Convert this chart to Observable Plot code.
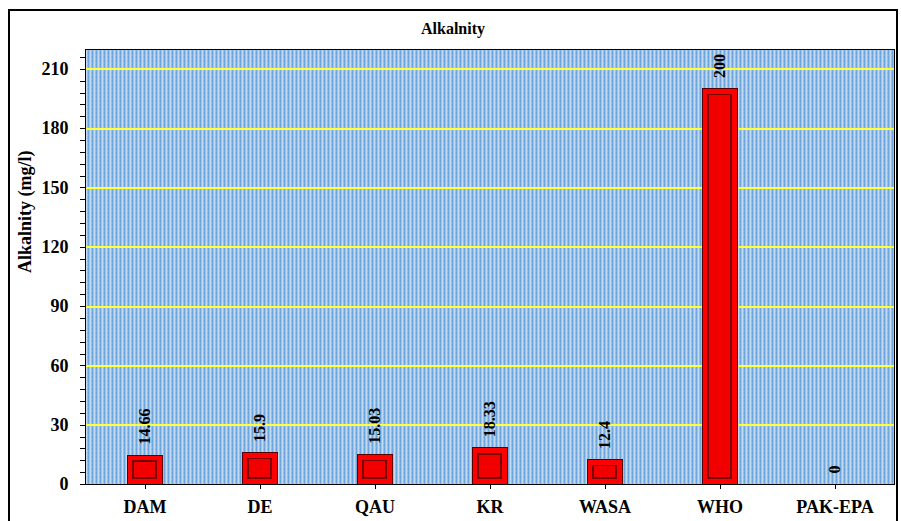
<!DOCTYPE html>
<html>
<head>
<meta charset="utf-8">
<script src="https://cdn.jsdelivr.net/npm/d3@7"></script>
<script src="https://cdn.jsdelivr.net/npm/@observablehq/plot@0.6"></script>
<style>
  html, body { margin: 0; padding: 0; background: #fff; width: 901px; height: 521px; overflow: hidden; }
  #frame { position: absolute; left: 8px; top: 9px; width: 886px; height: 530px; border: 2px solid #000; }
  #title { position: absolute; left: 8px; width: 890px; top: 20px; text-align: center;
           font-family: "Liberation Serif", "Times New Roman", Times, "DejaVu Serif", serif;
           font-weight: bold; font-size: 16px; color: #000; }
  #chart { position: absolute; left: 0; top: 0; }
</style>
</head>
<body>
<div id="frame"></div>
<div id="title">Alkalnity</div>
<div id="chart"></div>
<script>
const categories = ["DAM", "DE", "QAU", "KR", "WASA", "WHO", "PAK-EPA"];
const values = [14.66, 15.9, 15.03, 18.33, 12.4, 200, 0];
const valueLabels = ["14.66", "15.9", "15.03", "18.33", "12.4", "200", "0"];
const yTicks = [0, 30, 60, 90, 120, 150, 180, 210];
const yMinorTicks = d3.range(0, 221, 6);
const yTitle = "Alkalnity (mg/l)";

const data = categories.map((c, i) => ({ cat: c, value: values[i], label: valueLabels[i] }));
const font = '"Liberation Serif", "Times New Roman", Times, "DejaVu Serif", serif';

const chart = Plot.plot({
  width: 901,
  height: 521,
  marginLeft: 85,
  marginRight: 7,
  marginTop: 49,
  marginBottom: 37,
  style: { fontFamily: font, fontWeight: "bold", fontSize: "18px", color: "#000", background: "transparent" },
  x: { domain: categories, padding: 0 },
  y: { domain: [0, 220] },
  marks: [
    Plot.frame({ fill: "url(#bgdots)", stroke: null }),
    Plot.ruleY(yTicks.filter(d => d > 0), { stroke: "#ffff3a", strokeWidth: 2 }),
    Plot.axisY({ ticks: yMinorTicks, tickSize: 5, tickFormat: () => "", label: null, stroke: "#000" }),
    Plot.axisY({ ticks: yTicks, tickSize: 5, tickPadding: 12, label: null, fontSize: 18, fontWeight: "bold", fontFamily: font }),
    Plot.axisX({ tickSize: 5, tickPadding: 11, label: null, fontSize: 18, fontWeight: "bold", fontFamily: font }),
    Plot.barY(data.filter(d => d.value > 0), { x: "cat", y: "value", fill: "#ff0000", stroke: "#5a0000", strokeWidth: 1, insetLeft: 40, insetRight: 40 }),
    Plot.barY(data.filter(d => d.value > 0), { x: "cat", y: "value", fill: "#f20000", stroke: "#7a0000", strokeWidth: 1.5, insetLeft: 46, insetRight: 46, insetTop: 6, insetBottom: 6 }),
    Plot.text(data, { x: "cat", y: "value", text: "label", rotate: -90, textAnchor: "start", lineAnchor: "middle", dy: -11, fontSize: 16, fontWeight: "bold", fill: "#000", fontFamily: font }),
    Plot.text([yTitle], { frameAnchor: "left", rotate: -90, dx: -60, dy: 6, fontSize: 18, fontWeight: "bold", fill: "#000", fontFamily: font }),
    Plot.ruleY([0], { stroke: "#000", strokeWidth: 1.5 }),
    Plot.frame({ stroke: "#000", strokeWidth: 1 })
  ]
});

// pattern definition for the dotted blue background
const ns = "http://www.w3.org/2000/svg";
const defs = document.createElementNS(ns, "defs");
const pat = document.createElementNS(ns, "pattern");
pat.setAttribute("id", "bgdots");
pat.setAttribute("patternUnits", "userSpaceOnUse");
pat.setAttribute("width", "4");
pat.setAttribute("height", "4");
const base = document.createElementNS(ns, "rect");
base.setAttribute("width", "4"); base.setAttribute("height", "4"); base.setAttribute("fill", "#5696d6");
pat.appendChild(base);
[[1,0,"#ffffff"],[1,1,"#cfe3f7"],[1,2,"#f7fbff"],[1,3,"#bcd7f3"],[2,1,"#e3effb"],[2,3,"#ffffff"],[3,0,"#a9cbef"],[3,2,"#cfe3f7"]].forEach(([x,y,c]) => {
  const r = document.createElementNS(ns, "rect");
  r.setAttribute("x", x); r.setAttribute("y", y); r.setAttribute("width", 1); r.setAttribute("height", 1);
  r.setAttribute("fill", c);
  pat.appendChild(r);
});
defs.appendChild(pat);
chart.insertBefore(defs, chart.firstChild);
chart.setAttribute("shape-rendering", "crispEdges");
document.getElementById("chart").appendChild(chart);
</script>
</body>
</html>
